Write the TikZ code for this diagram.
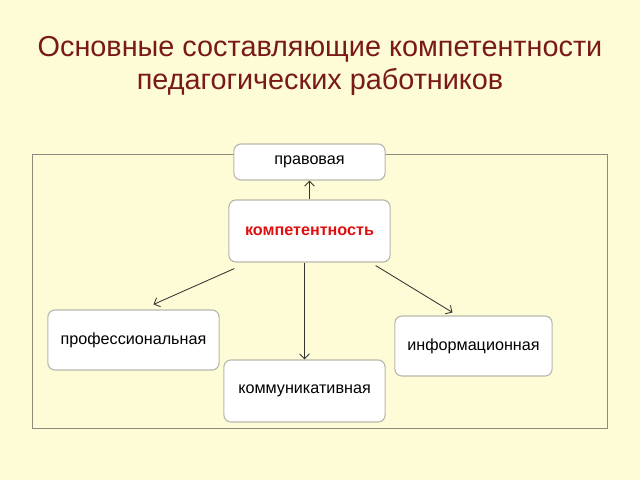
\documentclass[tikz,border=0pt]{standalone}
\usepackage{fontspec}
\setmainfont{Liberation Sans}
\usepackage{tikz}
\usetikzlibrary{positioning,arrows.meta,calc}
\definecolor{cBack}{HTML}{FDFCD6}
\definecolor{cTitle}{HTML}{7A1A18}
\definecolor{cFrame}{HTML}{8E8C7C}
\definecolor{cBoxB}{HTML}{B9B8AC}
\definecolor{cKey}{HTML}{E01010}
\definecolor{cLine}{HTML}{333333}

\begin{document}
\begin{tikzpicture}[
  x=0.025cm,y=-0.025cm,
  >={Straight Barb[length=3.5pt,width=7pt]},
  block/.style={rounded corners=5pt,draw=cBoxB,fill=white,line width=0.8pt,align=center,font=\fontsize{11.5}{13}\selectfont},
  key/.style  ={block,text=cKey,font=\fontsize{11.5}{13}\selectfont\bfseries},
  flow/.style ={->,cLine,line width=0.6pt},
  frame/.style={draw=cFrame,line width=0.6pt},
]
\path[fill=cBack,use as bounding box] (0,0) rectangle (640,480);

% title
\node[text=cTitle,align=center,font=\fontsize{20.5}{24}\selectfont] (title) at (320,66)
  {Основные составляющие компетентности\\педагогических работников};

% outer frame
\draw[frame] (32,154) rectangle (607,428);

% ---------------------------------------------------------------
% boxes
% ---------------------------------------------------------------
\node[block,minimum width=3.78cm,minimum height=0.9cm] (prav) at (309.5,162) {правовая};
\node[key,minimum width=4.03cm,minimum height=1.55cm] (compet) at (309.5,231) {компетентность};
\node[block,minimum width=4.28cm,minimum height=1.5cm] (prof) at (133.5,340) {профессиональная};
\node[block,minimum width=3.93cm,minimum height=1.5cm] (inform) at (473.5,346) {информационная};
\node[block,minimum width=4.03cm,minimum height=1.55cm] (kommun) at (304.5,391) {коммуникативная};

% ---------------------------------------------------------------
% arrows
% ---------------------------------------------------------------
\draw[flow] (compet.north) -- (prav.south);
\draw[flow] ($(compet.south west)+(6,6)$) -- ($(prof.north)+(20,-5)$);
\draw[flow] ($(compet.south east)+(-15,3)$) -- ($(inform.north)+(-21,-3)$);
\draw[flow] (kommun.north |- compet.south) -- (kommun.north);

\end{tikzpicture}
\end{document}
